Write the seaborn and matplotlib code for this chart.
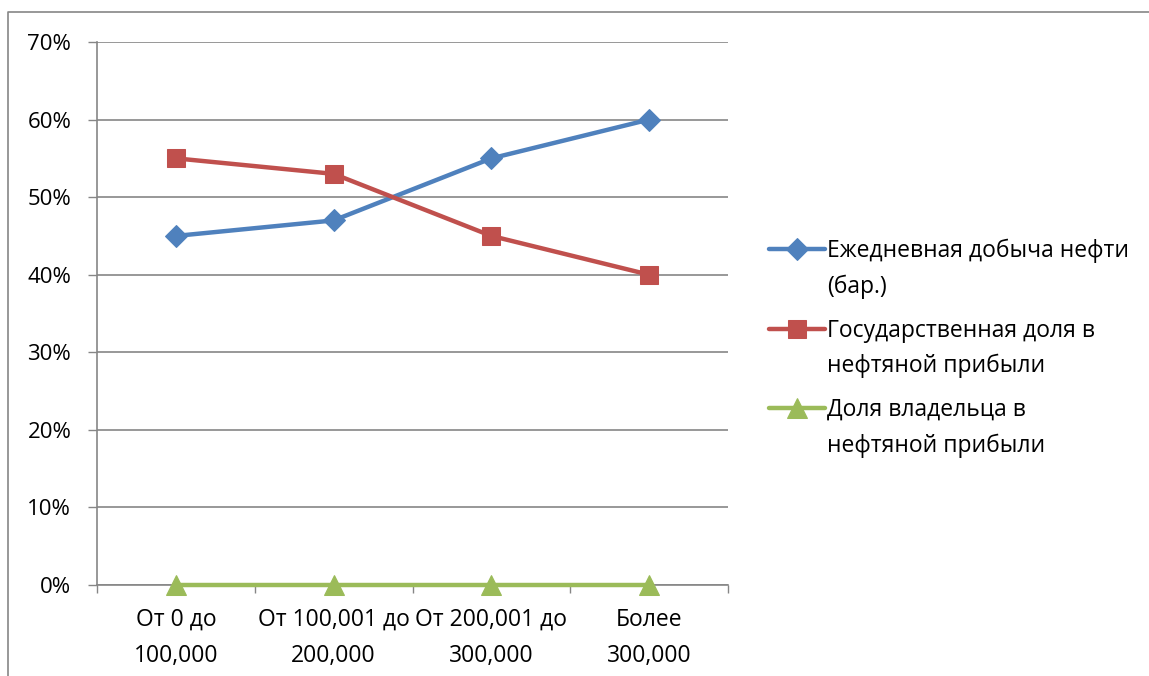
import pandas as pd
import matplotlib.pyplot as plt
import seaborn as sns
from matplotlib.lines import Line2D
from matplotlib.ticker import PercentFormatter, FixedLocator

# Data
categories = ['От 0 до\n100,000', 'От 100,001 до\n200,000', 'От 200,001 до\n300,000', 'Более\n300,000']
daily_output = [0.45, 0.47, 0.55, 0.60]
state_share = [0.55, 0.53, 0.45, 0.40]
owner_share = [0.0, 0.0, 0.0, 0.0]
series_names = [('Ежедневная добыча нефти', '(бар.)'),
                ('Государственная доля в', 'нефтяной прибыли'),
                ('Доля владельца в', 'нефтяной прибыли')]

sns.set_theme(style="white")
plt.rcParams['font.family'] = ['Open Sans', 'DejaVu Sans']
plt.rcParams['text.color'] = 'black'

fig = plt.figure(figsize=(11.49, 6.76), dpi=100)
ax = fig.add_axes([97 / 1149, 1 - 585 / 676, 631 / 1149, 543 / 676])

colors = ['#4F81BD', '#C0504D', '#9BBB59']
markers = ['D', 's', '^']
sizes = [11, 13, 14]
values = [daily_output, state_share, owner_share]
x = list(range(len(categories)))

for vals, name, c, m, ms in zip(values, series_names, colors, markers, sizes):
    df = pd.DataFrame({'x': x, 'y': vals})
    sns.lineplot(data=df, x='x', y='y', ax=ax, color=c, marker=m, markersize=ms,
                 markeredgecolor=c, linewidth=3.2, label=name[0], clip_on=False, zorder=3)

handles, _ = ax.get_legend_handles_labels()
if ax.get_legend() is not None:
    ax.get_legend().remove()

ax.set_xlim(-0.5, 3.5)
ax.set_ylim(0, 0.7)
ax.yaxis.set_major_locator(FixedLocator([i / 10 for i in range(8)]))
ax.yaxis.set_major_formatter(PercentFormatter(1.0, decimals=0))
ax.set_xticks(x)
ax.set_xticklabels(categories)
ax.set_xticks([-0.5, 0.5, 1.5, 2.5, 3.5], minor=True)
ax.tick_params(axis='x', which='major', length=0, pad=16.5, labelsize=16.5, labelcolor='black')
ax.tick_params(axis='x', which='minor', length=6, width=1, color='#868686', direction='out', bottom=True)
ax.tick_params(axis='y', which='major', length=6.5, width=1, color='#868686', direction='out',
               left=True, labelsize=16, pad=12, labelcolor='black')
for lab in ax.get_xticklabels():
    lab.set_linespacing(1.65)
ax.set_xlabel('')
ax.set_ylabel('')
ax.grid(axis='y', color='#868686', linewidth=1.2)
ax.grid(axis='x', visible=False)
for s in ['top', 'right']:
    ax.spines[s].set_visible(False)
for s in ['left', 'bottom']:
    ax.spines[s].set_color('#868686')
    ax.spines[s].set_linewidth(1.2)

# one small legend per series so the marker sits on the first text line
blank = Line2D([], [], linestyle='none')
legend_centers = [269, 348.5, 428]
for h, name, yc in zip(handles, series_names, legend_centers):
    fig.legend([h, blank], list(name), loc='center left',
               bbox_to_anchor=(769 / 1149, 1 - yc / 676), frameon=False, fontsize=16.5,
               handlelength=2.45, handletextpad=0.1, labelspacing=0.5, borderaxespad=0,
               borderpad=0)

# outer chart frame (cut off at right and bottom)
fig.add_artist(Line2D([8 / 1149, 8 / 1149, 1.0], [0.0, 1 - 12 / 676, 1 - 12 / 676],
                      transform=fig.transFigure, color='#868686', linewidth=1.2))

fig.savefig('out.png', dpi=100)
